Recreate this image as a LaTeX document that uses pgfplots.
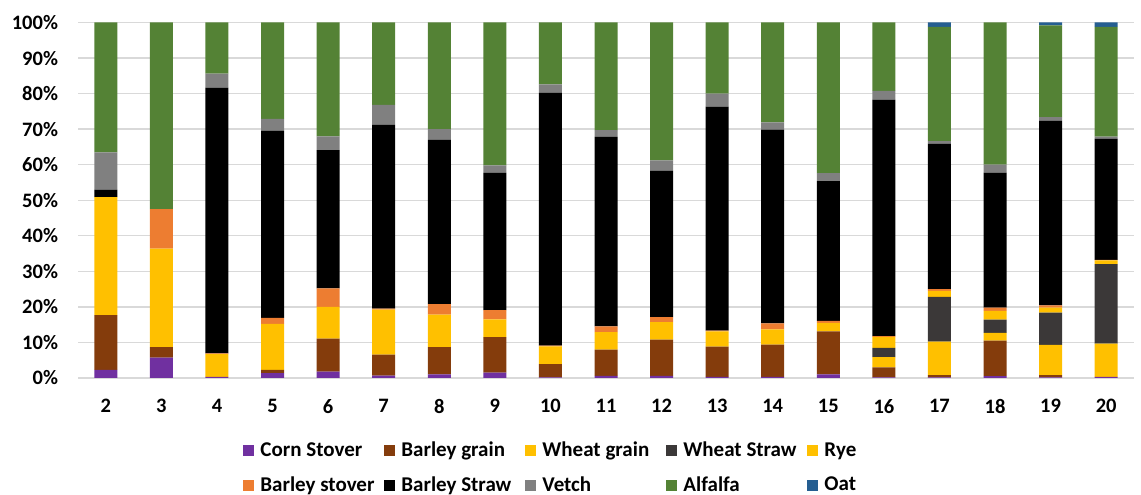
\documentclass[border=0pt]{standalone}
\usepackage{pgfplots}
\usepackage{pgfplotstable}
\pgfplotsset{compat=1.18}
\usepackage{fontspec}
\setmainfont{Carlito}
\definecolor{cCorn}{HTML}{7030A0}
\definecolor{cBgrain}{HTML}{843C0C}
\definecolor{cWgrain}{HTML}{FFC000}
\definecolor{cWstraw}{HTML}{3B3838}
\definecolor{cRye}{HTML}{FFC000}
\definecolor{cBstover}{HTML}{ED7D31}
\definecolor{cBstraw}{HTML}{000000}
\definecolor{cVetch}{HTML}{808080}
\definecolor{cAlf}{HTML}{548235}
\definecolor{cOat}{HTML}{255E91}
\definecolor{cGrid}{HTML}{D9D9D9}
\pgfplotstableread{
x  cs  bg   wg   ws   rye  bst  bs   vet  alf  oat
2  2.3 15.4 33.2 0    0    0    2.1  10.5 36.5 0
3  5.7 3.0  27.7 0    0    11.1 0    0    52.5 0
4  0.3 0    6.4  0    0    0.2  74.8 3.9  14.4 0
5  1.4 0.9  12.9 0    0    1.7  52.6 3.4  27.1 0
6  1.8 9.3  8.9  0    0    5.2  38.9 3.9  32.0 0
7  0.7 5.9  12.6 0    0    0.3  51.7 5.6  23.2 0
8  1.0 7.7  9.1  0    0    3.0  46.2 3.0  30.0 0
9  1.5 10.0 5.0  0    0    2.6  38.6 2.1  40.2 0
10 0.2 3.7  5.0  0    0    0.2  71.1 2.4  17.4 0
11 0.6 7.4  4.9  0    0    1.6  53.3 1.9  30.3 0
12 0.6 10.2 4.9  0    0    1.4  41.2 2.9  38.8 0
13 0.3 8.5  4.3  0    0    0.2  63.0 3.7  20.0 0
14 0.3 9.1  4.3  0    0    1.7  54.5 2.0  28.1 0
15 1.0 12.1 2.4  0    0    0.6  39.3 2.2  42.4 0
16 0.2 2.8  2.9  2.6  3.1  0.2  66.5 2.5  19.2 0
17 0.2 0.6  9.4  12.6 1.7  0.5  40.9 0.7  32.2 1.2
18 0.5 10.0 2.2  3.7  2.5  0.9  38.0 2.2  40.0 0
19 0.2 0.6  8.5  9.1  1.4  0.6  52.0 1.0  25.8 0.8
20 0.3 0    9.4  22.3 1.1  0.1  34.1 0.6  30.9 1.2
}\datatable
\newcommand{\legitem}[1]{\makebox[130pt][l]{\hspace{6.5pt}#1}}
\begin{document}
\fontsize{20.5}{24}\selectfont\bfseries
\begin{tikzpicture}
\useasboundingbox (0pt,0pt) rectangle (1141pt,495pt);
\begin{axis}[
  at={(78pt,117pt)}, anchor=south west,
  scale only axis, width=1056pt, height=355.5pt,
  ybar stacked, bar width=23pt,
  xmin=1.5, xmax=20.5, ymin=0, ymax=100,
  xtick={2,...,20}, ytick={0,10,...,100},
  yticklabel={\pgfmathprintnumber{\tick}\%},
  major tick length=0pt,
  axis line style={draw=none},
  ymajorgrids, major grid style={draw=cGrid, line width=1.3pt},
  tick label style={font=\fontsize{20.5}{24}\selectfont\bfseries},
  /pgf/number format/assume math mode=true,
  yticklabel style={xshift=-13pt},
  xticklabel style={yshift=-14pt},
  legend image code/.code={\fill[#1] (0pt,-5.5pt) rectangle (11pt,5.5pt);},
  legend style={at={(0.156,-0.179)}, anchor=north west, draw=none, fill=none,
    legend columns=5, inner sep=0pt, column sep=0pt, row sep=17pt,
    nodes={inner sep=0pt, anchor=west},
    font=\fontsize{21}{25}\selectfont\bfseries},
  legend cell align=left,
]
\addplot[fill=cCorn, draw=none] table[x=x,y=cs]{\datatable};
\addplot[fill=cBgrain, draw=none] table[x=x,y=bg]{\datatable};
\addplot[fill=cWgrain, draw=none] table[x=x,y=wg]{\datatable};
\addplot[fill=cWstraw, draw=none] table[x=x,y=ws]{\datatable};
\addplot[fill=cRye, draw=none] table[x=x,y=rye]{\datatable};
\addplot[fill=cBstover, draw=none] table[x=x,y=bst]{\datatable};
\addplot[fill=cBstraw, draw=none] table[x=x,y=bs]{\datatable};
\addplot[fill=cVetch, draw=none] table[x=x,y=vet]{\datatable};
\addplot[fill=cAlf, draw=none] table[x=x,y=alf]{\datatable};
\addplot[fill=cOat, draw=none] table[x=x,y=oat]{\datatable};
\legend{\legitem{Corn Stover},\legitem{Barley grain},\legitem{Wheat grain},\legitem{Wheat Straw},\legitem{Rye},
\legitem{Barley stover},\legitem{Barley Straw},\legitem{Vetch},\legitem{Alfalfa},\legitem{Oat}}
\end{axis}
\end{tikzpicture}
\end{document}
